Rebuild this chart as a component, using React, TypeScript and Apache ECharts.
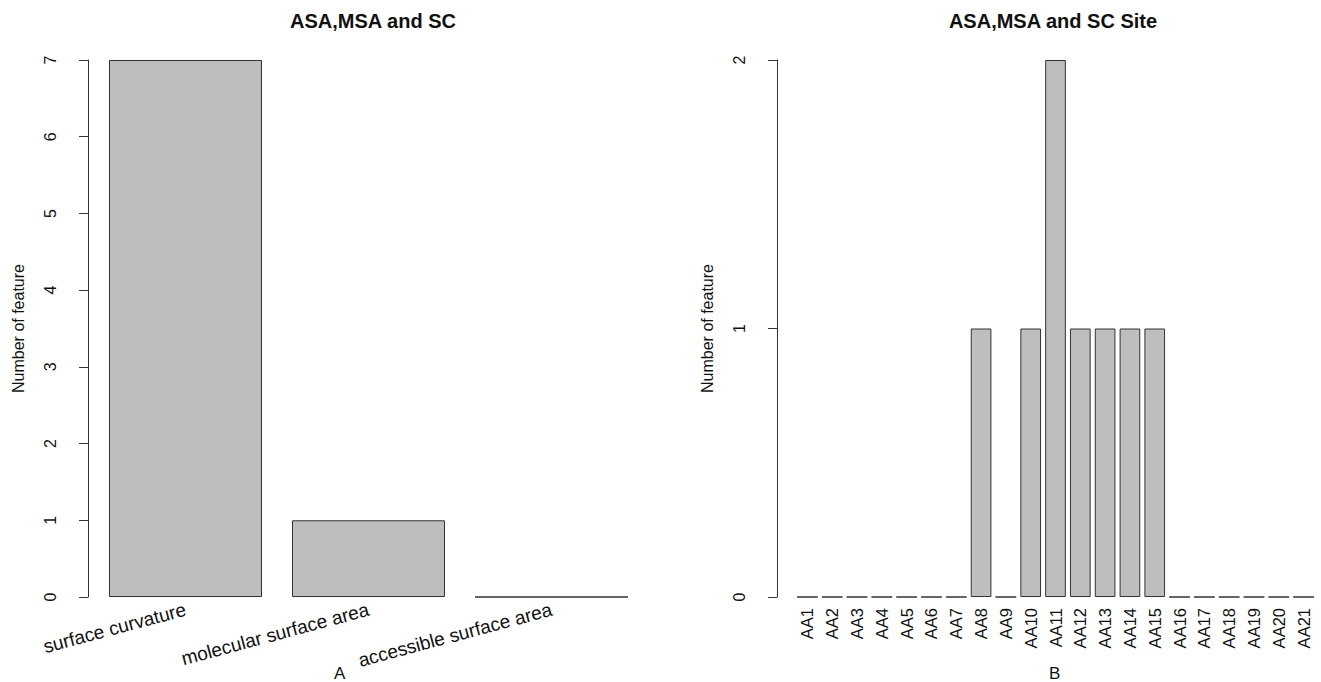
import React, { useEffect, useRef } from "react";
import * as echarts from "echarts";

const leftTitle = "ASA,MSA and SC";
const rightTitle = "ASA,MSA and SC Site";
const yName = "Number of feature";
const leftCategories = ["surface curvature", "molecular surface area", "accessible surface area"];
const leftValues = [7, 1, 0];
const rightCategories = [
  "AA1", "AA2", "AA3", "AA4", "AA5", "AA6", "AA7", "AA8", "AA9", "AA10", "AA11",
  "AA12", "AA13", "AA14", "AA15", "AA16", "AA17", "AA18", "AA19", "AA20", "AA21",
];
const rightValues = [0, 0, 0, 0, 0, 0, 0, 1, 0, 1, 2, 1, 1, 1, 1, 0, 0, 0, 0, 0, 0];
const leftSub = "A";
const rightSub = "B";

const FONT = "'Liberation Sans', Arial, Helvetica, sans-serif";
const BAR_FILL = "#bebebe";
const BAR_EDGE = "#333333";
const AXIS = "#333333";

export default function App() {
  const ref = useRef<HTMLDivElement>(null);
  useEffect(() => {
    if (!ref.current) return;
    const chart = echarts.init(ref.current, undefined, { renderer: "svg" });
    const yAxisCommon = {
      type: "value" as const,
      min: 0,
      interval: 1,
      splitLine: { show: false },
      axisLine: { show: true, lineStyle: { color: AXIS, width: 1 } },
      axisTick: { show: true, length: 9, lineStyle: { color: AXIS, width: 1 } },
      axisLabel: { rotate: 90, fontSize: 16, color: "#111", fontFamily: FONT, margin: 30 },
      name: yName,
      nameLocation: "middle" as const,
      nameGap: 62,
      nameTextStyle: { fontSize: 16, color: "#111", fontFamily: FONT },
    };
    chart.setOption({
      animation: false,
      backgroundColor: "#ffffff",
      textStyle: { fontFamily: FONT },
      title: [
        {
          text: leftTitle,
          left: 368,
          top: 6,
          textAlign: "center",
          textStyle: { fontSize: 20, fontWeight: "bold", color: "#111", fontFamily: FONT },
        },
        {
          text: rightTitle,
          left: 1048,
          top: 6,
          textAlign: "center",
          textStyle: { fontSize: 20, fontWeight: "bold", color: "#111", fontFamily: FONT },
        },
      ],
      grid: [
        { left: 94, top: 60, width: 549, height: 537 },
        { left: 795, top: 60, width: 521, height: 537 },
      ],
      xAxis: [
        {
          type: "category",
          gridIndex: 0,
          data: leftCategories,
          axisLine: { show: false },
          axisTick: { show: false },
          axisLabel: {
            rotate: 15,
            fontSize: 19,
            color: "#111",
            fontFamily: FONT,
            margin: 12,
            interval: 0,
          },
        },
        {
          type: "category",
          gridIndex: 1,
          data: rightCategories,
          axisLine: { show: false },
          axisTick: { show: false },
          axisLabel: {
            rotate: 90,
            fontSize: 16.5,
            color: "#111",
            fontFamily: FONT,
            margin: 11,
            interval: 0,
          },
        },
      ],
      yAxis: [
        { ...yAxisCommon, gridIndex: 0, max: 7, offset: 6 },
        { ...yAxisCommon, gridIndex: 1, max: 2, offset: 18 },
      ],
      series: [
        {
          type: "bar",
          xAxisIndex: 0,
          yAxisIndex: 0,
          data: leftValues,
          barCategoryGap: "16.4%",
          itemStyle: { color: BAR_FILL, borderColor: BAR_EDGE, borderWidth: 1 },
        },
        {
          type: "bar",
          xAxisIndex: 1,
          yAxisIndex: 1,
          data: rightValues,
          barCategoryGap: "16.7%",
          itemStyle: { color: BAR_FILL, borderColor: BAR_EDGE, borderWidth: 1 },
        },
      ],
      graphic: [
        {
          type: "text",
          left: 334,
          top: 665,
          style: { text: leftSub, fontSize: 17, fill: "#111", fontFamily: FONT },
        },
        {
          type: "text",
          left: 1049,
          top: 665,
          style: { text: rightSub, fontSize: 17, fill: "#111", fontFamily: FONT },
        },
      ],
    });
    return () => chart.dispose();
  }, []);
  return (
    <div
      ref={ref}
      style={{ position: "fixed", left: 0, top: 0, width: 1321, height: 682, background: "#fff" }}
    />
  );
}
